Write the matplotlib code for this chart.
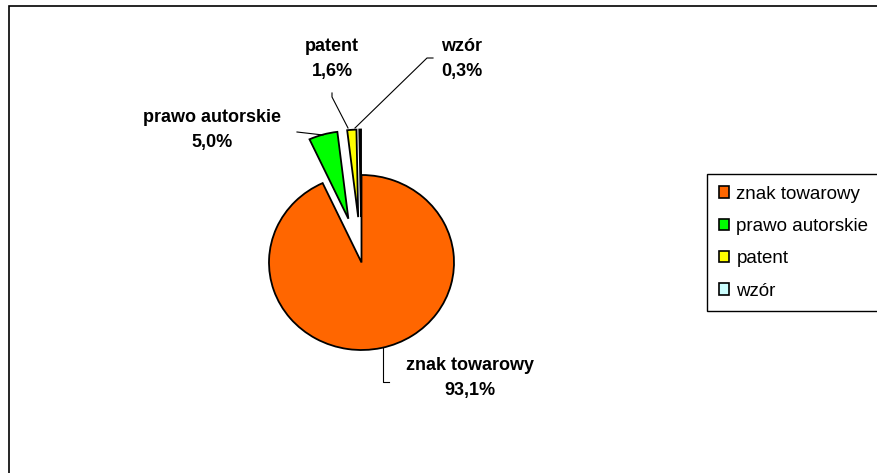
import matplotlib
matplotlib.use("Agg")
import matplotlib.pyplot as plt
import numpy as np
from matplotlib.patches import Rectangle

categories = ["znak towarowy", "prawo autorskie", "patent", "wzór"]
values = [93.1, 5.0, 1.6, 0.3]
value_labels = ["93,1%", "5,0%", "1,6%", "0,3%"]
colors = ["#FF6600", "#00FF00", "#FFFF00", "#CCFFFF"]

W, H = 878, 473
K = 175 / 185  # vertical squash of the pie (ellipse as in reference)
fig = plt.figure(figsize=(W / 100, H / 100), dpi=100)
ax = fig.add_axes([0, 0, 1, 1])

def py(y):
    return (H - y) / K

r = 92.5
explode = [0.0, 0.52 * r, 0.52 * r, 0.52 * r]
wedges, _ = ax.pie(values, colors=colors, explode=explode, startangle=90, counterclock=False,
                   center=(361.5, py(262.5)), radius=r, normalize=True, frame=True,
                   wedgeprops=dict(edgecolor="black", linewidth=1.3))
ax.set_xlim(0, W)
ax.set_ylim(0, H / K)
ax.set_aspect("auto")
ax.axis("off")

# outer chart frame
ax.add_patch(Rectangle((9, py(6) - 2000), 3000, 2000, fill=False, ec="black", lw=1.2, zorder=0))

font = "Liberation Sans"
lab_pos = [(470, 365), (212, 118), (332, 47), (462, 47)]
for i, (x, y) in enumerate(lab_pos):
    ax.text(x, py(y), categories[i], ha="center", va="center", fontsize=13,
            fontweight="bold", family=font)
    ax.text(x, py(y + 25), value_labels[i], ha="center", va="center", fontsize=13,
            fontweight="bold", family=font)

# leader lines
leaders = [
    [(383, 348), (383, 382), (389, 382)],
    [(323, 135), (297, 132)],
    [(348, 128), (332, 97), (332, 93)],
    [(355, 128), (427, 58), (433, 58)],
]
for pts in leaders:
    xs = [p[0] for p in pts]
    ys = [py(p[1]) for p in pts]
    ax.plot(xs, ys, color="black", lw=0.8)

leg = ax.legend(wedges, categories, loc="upper left",
                bbox_to_anchor=(707 / W, 1 - 174 / H), bbox_transform=fig.transFigure,
                frameon=True, fancybox=False, edgecolor="black", framealpha=1,
                prop=dict(family=font, size=13.5), handlelength=0.55, handleheight=0.55,
                handletextpad=0.4, labelspacing=0.82, borderpad=0.62, borderaxespad=0)
leg.get_frame().set_linewidth(1.0)
for h in leg.legend_handles:
    h.set_linewidth(1.2)

fig.savefig("out.png", dpi=100)
